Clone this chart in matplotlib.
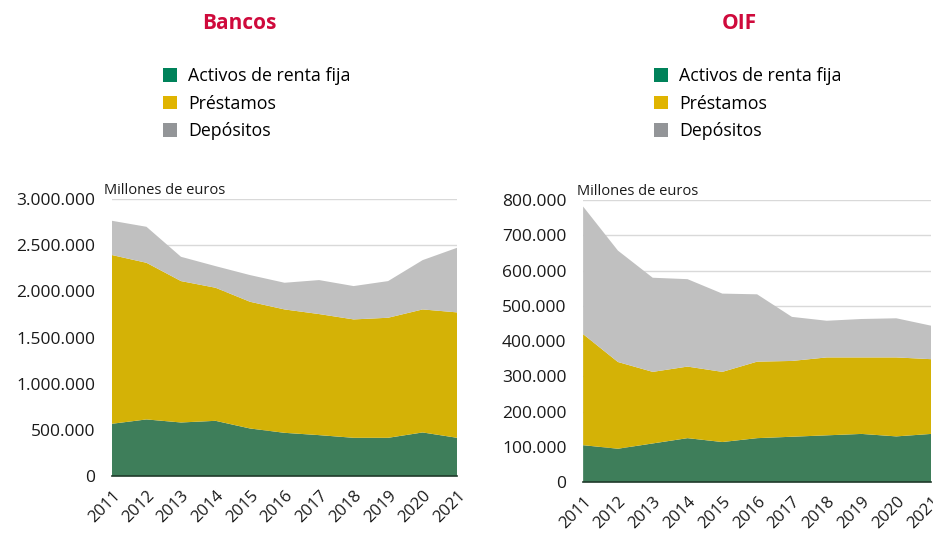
import numpy as np
import matplotlib
matplotlib.use('Agg')
import matplotlib.pyplot as plt
from matplotlib.patches import Patch
from matplotlib.ticker import FuncFormatter

years = list(range(2011, 2022))
series_names = ['Activos de renta fija', 'Préstamos', 'Depósitos']

# Bancos, millones de euros
bancos_renta_fija = [567000, 614000, 581000, 599000, 516000, 469000, 444000, 415000, 415000, 473000, 415000]
bancos_prestamos = [1827000, 1696000, 1531000, 1441000, 1372000, 1336000, 1311000, 1282000, 1300000, 1332000, 1358000]
bancos_depositos = [371000, 390000, 263000, 234000, 289000, 289000, 368000, 361000, 397000, 534000, 700000]

# OIF, millones de euros
oif_renta_fija = [105000, 95000, 110000, 125000, 114000, 125000, 129000, 133000, 137000, 130000, 137000]
oif_prestamos = [315000, 246000, 203000, 203000, 199000, 217000, 215000, 221000, 217000, 224000, 212000]
oif_depositos = [362000, 316000, 267000, 248000, 222000, 191000, 125000, 104000, 109000, 111000, 95000]

fill_colors = ['#3e7e5a', '#d4b206', '#c0c0c0']
legend_colors = ['#00825a', '#e0b400', '#939598']
title_color = '#cf0a3c'
font = 'Open Sans'


def miles(v, pos):
    return '{:,.0f}'.format(v).replace(',', '.')


def draw_panel(rect, title, title_x, leg_x, stacks, ymax, ystep, unit_x):
    ax = fig.add_axes(rect)
    ax.stackplot(years, *stacks, colors=fill_colors, linewidth=0)
    ax.set_xlim(years[0], years[-1])
    ax.set_ylim(0, ymax)
    ax.set_yticks(np.arange(0, ymax + 1, ystep))
    ax.yaxis.set_major_formatter(FuncFormatter(miles))
    ax.set_xticks(years)
    ax.set_xticklabels([str(y) for y in years], rotation=45, ha='right',
                       rotation_mode='anchor', fontsize=12, family=font)
    for lab in ax.get_yticklabels():
        lab.set_fontsize(12.5)
        lab.set_family(font)
    ax.tick_params(axis='both', length=0, colors='#1a1a1a')
    ax.tick_params(axis='y', pad=12)
    ax.tick_params(axis='x', pad=8)
    ax.grid(axis='y', color='#d9d9d9', linewidth=1)
    ax.set_axisbelow(True)
    for s in ['top', 'right', 'left']:
        ax.spines[s].set_visible(False)
    ax.spines['bottom'].set_color('#1f3a2a')
    ax.spines['bottom'].set_linewidth(1.2)
    ax.spines['bottom'].set_zorder(5)
    fig.text(unit_x, rect[1] + rect[3] + 0.002, 'Millones de euros', fontsize=10.5,
             family=font, color='#1a1a1a', ha='left', va='bottom')
    fig.text(title_x, 0.958, title, fontsize=15, fontweight='bold', family=font,
             color=title_color, ha='center', va='center')
    handles = [Patch(facecolor=c, edgecolor='none') for c in legend_colors]
    fig.legend(handles, series_names, loc='upper left', bbox_to_anchor=(leg_x, 0.878),
               frameon=False, prop={'family': font, 'size': 12.8},
               handlelength=0.8, handleheight=0.8, handletextpad=0.6, labelspacing=0.52,
               borderpad=0, borderaxespad=0)
    return ax


fig = plt.figure(figsize=(9.33, 5.53), dpi=100)

draw_panel([0.120, 0.139, 0.370, 0.501], 'Bancos', 0.257, 0.175,
           [bancos_renta_fija, bancos_prestamos, bancos_depositos], 3000000, 500000, 0.111)
draw_panel([0.625, 0.128, 0.373, 0.510], 'OIF', 0.792, 0.701,
           [oif_renta_fija, oif_prestamos, oif_depositos], 800000, 100000, 0.618)

fig.savefig('out.png', dpi=100)
